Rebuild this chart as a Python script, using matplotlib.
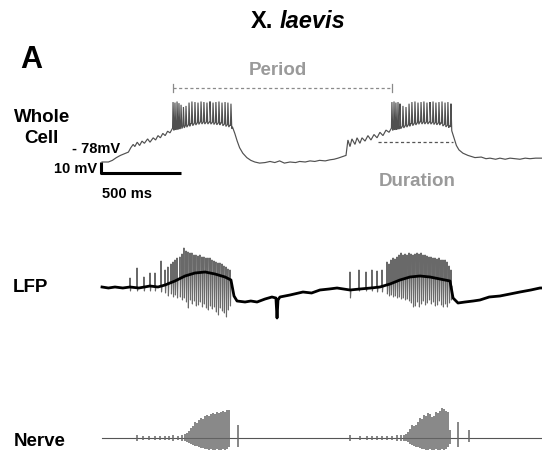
import numpy as np
import matplotlib
matplotlib.use("Agg")
import matplotlib.pyplot as plt

# ---------------- data (time in ms, whole cell in mV, LFP / nerve in a.u.) ----------------
# Whole-cell subthreshold membrane potential
wc_t = [0, 40, 65, 90, 115, 140, 165, 180, 195, 205, 220, 235, 250, 265, 285, 300, 320, 335, 350, 365, 380, 395, 410, 425, 440,
        490, 550, 615, 675, 740, 800, 815,
        830, 845, 860, 880, 905, 930, 955, 985, 1020, 1050, 1080, 1110, 1140, 1175, 1210, 1235, 1270, 1300, 1330, 1360, 1395, 1425, 1450, 1475, 1505, 1525,
        1537, 1550, 1562, 1581, 1594, 1612, 1625, 1644, 1662, 1681, 1700, 1719, 1737, 1756, 1775, 1794, 1808,
        1862, 1925, 1987, 2050, 2112, 2170, 2185,
        2200, 2215, 2231, 2256, 2287, 2331, 2370, 2400, 2425, 2460, 2487, 2520, 2550, 2580, 2612, 2645, 2675, 2710, 2750]
wc_v = [-78, -78, -76.5, -74, -72, -70.5, -69, -65, -62, -64, -60, -63, -59, -61, -57, -60, -56, -58, -54, -56, -52, -54, -50, -51.5, -47.5,
        -46, -43.5, -41.5, -41.5, -42.5, -44.5, -46,
        -52, -59, -65, -70, -74, -76.5, -78, -79, -78.5, -77.5, -78.5, -77, -79, -78, -78.5, -77.5, -78, -77, -77.5, -76.5, -77, -76, -75.5, -74.5, -73, -72,
        -58, -64, -57, -62, -56, -61, -56, -59, -54, -58, -53, -56, -51, -54, -49, -51, -47.5,
        -46, -43.5, -41.5, -41.5, -42.5, -45, -47,
        -56, -63, -67, -70, -72, -74, -73.5, -75, -74.5, -75.5, -74.5, -75.5, -74.5, -75, -75.5, -74.5, -75, -74.5, -74.5]
# Whole-cell action potentials (time, peak mV)
wc_spk_t = [444, 456, 469, 481, 494, 509, 525, 544, 562, 581, 600, 619, 637, 656, 675, 694, 712, 731, 750, 769, 787, 806,
            1812, 1825, 1837, 1850, 1862, 1881, 1900, 1919, 1937, 1956, 1975, 1994, 2012, 2031, 2050, 2069, 2087, 2106, 2125, 2144, 2162, 2181]
wc_spk_v = [-23.5, -24, -23, -24.5, -26, -28, -27, -24, -23, -23.5, -24, -23, -23.5, -24, -23, -24, -23.5, -23, -24, -23.5, -24, -25,
            -23.5, -23, -24, -23.5, -25, -27, -28, -25, -23.5, -23, -24, -23.5, -23, -24, -23.5, -23, -24, -23.5, -23, -24, -23.5, -25]

# LFP slow component
lfp_t = [0, 40, 81, 130, 175, 230, 300, 350, 394, 456, 519, 581, 644, 706, 769, 806, 825, 844, 894, 930, 969, 1019, 1062, 1087,
         1094, 1100, 1112, 1175, 1256, 1310, 1362, 1420, 1469, 1550, 1612, 1680, 1737, 1800, 1862, 1925, 1987, 2050, 2112, 2175,
         2194, 2225, 2269, 2320, 2362, 2420, 2487, 2550, 2612, 2680, 2737, 2750]
lfp_v = [1, 0, 1, 0, 1, 0, 2, 1, 3, 7, 12, 15, 16, 14, 11, 8, -8, -13, -14, -13, -14, -11, -9, -10,
         -30, -12, -9, -7, -4, -5, -2, -1, 0, -2, -1, 0, 1, 4, 8, 11, 12, 11, 9, 7,
         -10, -15, -14, -13, -12, -9, -8, -6, -4, -2, 0, 0]
# LFP fast transients (time, upper, lower)
lfp_spk_t = [175, 219, 262, 300, 331, 369, 394, 412, 431, 444, 456, 469, 487, 500, 512, 525, 537, 550, 562, 575,
             587, 600, 612, 625, 637, 650, 662, 675, 687, 700, 712, 725, 737, 750, 762, 775, 787, 800,
             1550, 1606, 1650, 1687, 1719, 1750, 1781, 1794, 1806, 1819, 1831, 1844, 1856, 1869, 1881, 1894, 1906, 1919, 1931, 1944,
             1956, 1969, 1981, 1994, 2006, 2019, 2031, 2044, 2056, 2069, 2081, 2094, 2106, 2119, 2131, 2144, 2156, 2169, 2181]
lfp_spk_hi = [10, 20, 11, 15, 15, 27, 18, 21, 24, 26, 28, 30, 31, 34, 40, 37, 36, 35, 35, 33,
              33, 32, 33, 31, 31, 30, 30, 30, 28, 27, 26, 25, 25, 24, 22, 21, 19, 18,
              16, 18, 16, 18, 17, 18, 26, 24, 28, 30, 29, 31, 33, 35, 33, 34, 33, 35, 34, 33,
              34, 35, 34, 35, 33, 33, 32, 31, 31, 30, 30, 29, 30, 28, 28, 28, 26, 22, 18]
lfp_spk_lo = [-3, -3, -3, -3, -3, -4, -5, -8, -6, -9, -7, -10, -9, -12, -10, -14, -20, -12, -16, -13,
              -18, -17, -14, -19, -16, -20, -22, -18, -21, -19, -24, -27, -20, -23, -25, -29, -22, -18,
              -10, -3, -3, -3, -4, -4, -6, -8, -7, -9, -8, -10, -9, -11, -10, -12, -11, -13, -15, -19,
              -18, -14, -19, -16, -13, -17, -15, -12, -16, -14, -18, -17, -13, -17, -19, -16, -19, -15, -12]

# Nerve recording (time, upper, lower)
nrv_base_t = [0, 2750]
nrv_base_v = [0, 0]
nrv_spk_t = [219, 256, 294, 331, 362, 394, 419, 444, 475, 500,
             519, 531, 544, 556, 569, 581, 594, 606, 619, 631, 644, 656, 669, 681, 694, 706, 719, 731, 744, 756, 769, 781, 794, 850,
             1550, 1612, 1656, 1687, 1719, 1750, 1781, 1812, 1844, 1869, 1887,
             1900, 1912, 1925, 1937, 1950, 1962, 1975, 1987, 2000, 2012, 2025, 2037, 2050, 2062, 2075, 2087, 2100, 2112, 2125, 2137,
             2150, 2162, 2175, 2225, 2294]
nrv_spk_hi = [3, 2, 2, 2, 2, 2, 2, 3, 2, 3,
              4, 5, 7, 10, 12, 16, 15, 18, 20, 19, 22, 23, 22, 24, 25, 24, 26, 25, 26, 27, 26, 28, 28, 13,
              3, 2, 2, 2, 2, 2, 2, 2, 3, 3, 3,
              4, 6, 9, 13, 12, 13, 16, 20, 19, 23, 22, 25, 24, 21, 22, 26, 25, 27, 30, 29,
              27, 26, 8, 16, 8]
nrv_spk_lo = [-3, -2, -2, -2, -2, -2, -2, -3, -2, -3,
              -3, -4, -5, -6, -7, -8, -8, -9, -10, -10, -11, -11, -12, -11, -12, -12, -11, -12, -12, -11, -12, -11, -9, -9,
              -3, -2, -2, -2, -2, -2, -2, -2, -3, -3, -3,
              -3, -4, -6, -7, -8, -9, -9, -10, -11, -11, -12, -12, -11, -12, -12, -11, -12, -12, -11, -12,
              -11, -9, -6, -9, -4]

period_t = [444, 1812]
duration_t = [1725, 2194]
duration_v = -59.8

# ---------------- figure ----------------
W, H = 542, 450
fig = plt.figure(figsize=(W / 100, H / 100), dpi=100)
FONT = "Liberation Sans"
XLIM = (-102 * 6.25, 440 * 6.25)


def fx(px):
    return px / W


def fy(py):
    return 1 - py / H


def make_ax(ylim):
    ax = fig.add_axes([0, 0, 1, 1])
    ax.set_xlim(*XLIM)
    ax.set_ylim(*ylim)
    ax.axis("off")
    ax.patch.set_alpha(0)
    return ax


# whole cell: -78 mV at y=162 px, 1.1 px per mV
ax_wc = make_ax((-78 - 288 / 1.1, -78 + 162 / 1.1))
pts = list(zip(wc_t, wc_v))
for t, p in zip(wc_spk_t, wc_spk_v):
    b0 = np.interp(t - 3, wc_t, wc_v)
    b1 = np.interp(t + 5, wc_t, wc_v)
    pts += [(t - 3, b0), (t, p), (t + 5, b1 - 2)]
pts.sort(key=lambda q: q[0])
tt, vv = zip(*pts)
ax_wc.plot(tt, vv, color="#505050", lw=0.85, solid_joinstyle="miter")

# scale bars
ax_wc.plot([-6, -6, 494], [-78, -88, -88], color="black", lw=2.2, solid_capstyle="butt")
# period
pv = -78 + 74 / 1.1
ax_wc.plot(period_t, [pv, pv], color="#8a8a8a", lw=0.9, ls=(0, (2.5, 2)))
for t in period_t:
    ax_wc.plot([t, t], [pv - 3.5, pv + 3.5], color="#8a8a8a", lw=0.9)
# duration
ax_wc.plot(duration_t, [duration_v, duration_v], color="#555555", lw=0.9, ls=(0, (2.5, 2)))

# LFP: 0 at y=288 px, 1 px per unit
ax_lfp = make_ax((288 - 450, 288))
for t, hi, lo in zip(lfp_spk_t, lfp_spk_hi, lfp_spk_lo):
    b = np.interp(t, lfp_t, lfp_v)
    ax_lfp.plot([t - 2, t, t + 3, t + 6], [b, hi, lo, b], color="#2a2a2a", lw=0.8, alpha=0.7)
ax_lfp.plot(lfp_t, lfp_v, color="black", lw=2.0)

# Nerve: 0 at y=438 px
ax_n = make_ax((438 - 450, 438))
ax_n.plot(nrv_base_t, nrv_base_v, color="#555555", lw=0.8)
ax_n.vlines(nrv_spk_t, nrv_spk_lo, nrv_spk_hi, color="#666666", lw=1.1)

# ---------------- text ----------------
def txt(px, py, s, size, ha="left", color="black", style="normal"):
    fig.text(fx(px), fy(py), s, fontsize=size, ha=ha, va="baseline", color=color,
             family=FONT, weight="bold", style=style)


txt(251, 28, "X.", 17)
txt(280, 28, "laevis", 17, style="italic")
txt(20, 68, "A", 22)
txt(278, 75, "Period", 13.5, ha="center", color="#9a9a9a")
txt(417, 186, "Duration", 13.5, ha="center", color="#9a9a9a")
txt(42, 122, "Whole", 13.5, ha="center")
txt(41, 143, "Cell", 13.5, ha="center")
txt(72, 153, "- 78mV", 10.5)
txt(97, 173, "10 mV", 10.5, ha="right")
txt(102, 198, "500 ms", 10.5)
txt(13, 292, "LFP", 13.5)
txt(14, 446, "Nerve", 13.5)

fig.savefig("out.png", dpi=100)
